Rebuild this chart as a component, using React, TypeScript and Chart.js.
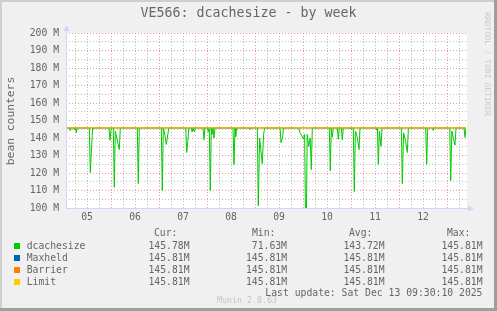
import React, { useEffect, useRef } from "react";
import { Chart, registerables } from "chart.js";

Chart.register(...registerables);

// ---------- data ----------
const chartTitle = "VE566: dcachesize - by week";
const yAxisTitle = "bean counters";
const dayLabels = ["05", "06", "07", "08", "09", "10", "11", "12"]; // labels at noon of each day
const xStartHour = 1.5; // hours since Dec 05 00:00
const xEndHour = 201.5;
const yMin = 100;
const yMax = 200;

// dcachesize samples (hours since Dec 05 00:00, value in M)
const dcacheHours = [
  1.5, 3.15, 3.65, 4.15, 5.4, 5.9, 6.3, 6.65, 7.15,
  13.15, 13.65, 14.8, 15.3, 15.65, 16.15,
  23.0, 23.5, 24.1, 25.15, 25.65, 26.15, 26.9, 28.15, 28.65,
  37.15, 37.65, 38.15,
  49.15, 49.65, 50.15, 50.9, 51.65, 52.4, 52.9,
  61.35, 61.85, 62.4, 62.9,
  64.2, 64.6, 65.0, 65.5, 65.9,
  70.0, 70.5, 71.0,
  72.2, 72.65, 73.15, 73.65, 74.15, 74.5, 75.0, 75.5, 76.0,
  85.0, 85.5, 86.0, 86.35, 86.8,
  93.0, 93.5, 94.0,
  97.15, 97.65, 98.3, 99.65, 100.3, 100.8,
  108.5, 109.0, 109.8, 110.3,
  117.8, 118.5, 119.3, 120.2, 120.8, 121.5, 122.1, 122.85, 123.6, 124.15, 124.65,
  133.15, 133.65, 134.15, 134.65, 135.15,
  137.15, 137.65, 138.15, 139.15, 139.65, 140.15,
  143.6, 144.0, 144.4,
  145.15, 145.65, 146.2, 147.2, 148.0, 148.5,
  156.4, 156.85, 157.2, 157.65, 158.2, 159.0, 159.5,
  169.15, 169.65, 170.3, 171.3, 172.15, 172.7,
  181.35, 181.85, 182.35,
  184.8, 185.15, 185.5,
  193.35, 193.85, 194.4, 196.0, 196.5,
  200.5, 201.0, 201.5,
];
const dcacheValues = [
  145.8, 145.8, 144.2, 145.8, 145.8, 144.6, 145.8, 143.0, 145.8,
  145.8, 120.3, 145.8, 145.8, 145.2, 145.8,
  145.8, 138.7, 145.8, 145.8, 111.8, 144.0, 140.0, 133.4, 145.8,
  145.8, 114.0, 145.8,
  145.8, 109.9, 145.8, 142.0, 136.3, 142.0, 145.8,
  145.8, 131.7, 137.9, 145.8,
  145.8, 143.4, 145.8, 143.8, 145.8,
  145.8, 139.0, 145.8,
  145.8, 143.5, 145.8, 109.9, 145.8, 142.0, 145.8, 140.0, 145.8,
  145.8, 124.8, 145.8, 140.8, 145.8,
  145.8, 144.8, 145.8,
  145.8, 101.3, 140.0, 125.3, 142.0, 145.8,
  145.8, 137.4, 140.5, 145.8,
  145.8, 143.0, 141.5, 139.3, 142.0, 71.63, 142.0, 135.2, 140.0, 122.0, 145.8,
  145.8, 121.3, 145.8, 140.5, 145.8,
  145.8, 139.3, 145.8, 145.8, 138.9, 145.8,
  145.8, 144.9, 145.8,
  145.8, 109.4, 144.0, 140.0, 133.4, 145.8,
  145.8, 144.5, 145.5, 124.9, 144.0, 135.3, 145.8,
  145.8, 114.0, 143.0, 138.0, 131.7, 145.8,
  145.8, 124.9, 145.8,
  145.8, 144.3, 145.8,
  145.8, 115.6, 144.0, 135.9, 145.8,
  145.8, 140.4, 145.78,
];
const flatHours = [1.5, 201.5];
const maxheldValues = [145.81, 145.81];
const barrierValues = [145.81, 145.81];
const limitValues = [145.81, 145.81];

const seriesNames = ["dcachesize", "Maxheld", "Barrier", "Limit"];
const seriesColors = ["#00CC00", "#0066B3", "#FF8000", "#FFCC00"];
const curValues = ["145.78M", "145.81M", "145.81M", "145.81M"];
const minValues = ["71.63M", "145.81M", "145.81M", "145.81M"];
const avgValues = ["143.72M", "145.81M", "145.81M", "145.81M"];
const maxValues = ["145.81M", "145.81M", "145.81M", "145.81M"];
const columnHeaders = ["Cur:", "Min:", "Avg:", "Max:"];
const lastUpdate = "Last update: Sat Dec 13 09:30:10 2025";
const footer = "Munin 2.0.63";
const sideText = "RRDTOOL / TOBI OETIKER";

// ---------- style ----------
const MONO = '"DejaVu Sans Mono", monospace';
const FONT_COLOR = "#666666";
const AXIS_COLOR = "#CFD6F8";
const MAJOR_GRID = "rgba(230,120,120,0.75)";
const MINOR_GRID = "rgba(170,170,170,0.75)";

const toPoints = (xs: number[], ys: number[]) => xs.map((x, i) => ({ x, y: ys[i] }));

const muninPlugin = {
  id: "muninDecor",
  beforeDraw(chart: any) {
    const { ctx, chartArea: a } = chart;
    ctx.save();
    ctx.fillStyle = "#FFFFFF";
    ctx.fillRect(a.left, a.top, a.right - a.left + 1, a.bottom - a.top);
    ctx.restore();
  },
  afterDraw(chart: any) {
    const { ctx, chartArea: a } = chart;
    const l = Math.round(a.left) + 0.5;
    const b = Math.round(a.bottom) + 0.5;
    ctx.save();
    ctx.strokeStyle = AXIS_COLOR;
    ctx.fillStyle = AXIS_COLOR;
    ctx.lineWidth = 1;
    ctx.beginPath();
    ctx.moveTo(l, b);
    ctx.lineTo(l, a.top - 3);
    ctx.moveTo(l - 0.5, b);
    ctx.lineTo(a.right + 4, b);
    ctx.stroke();
    ctx.beginPath();
    ctx.moveTo(l, a.top - 8);
    ctx.lineTo(l - 3, a.top - 2);
    ctx.lineTo(l + 3, a.top - 2);
    ctx.closePath();
    ctx.fill();
    ctx.beginPath();
    ctx.moveTo(a.right + 8, b);
    ctx.lineTo(a.right + 2, b - 3);
    ctx.lineTo(a.right + 2, b + 3);
    ctx.closePath();
    ctx.fill();
    ctx.restore();
  },
};

export default function App() {
  const canvasRef = useRef<HTMLCanvasElement | null>(null);

  useEffect(() => {
    if (!canvasRef.current) return;
    const xTicks: number[] = [];
    for (let h = 6; h < xEndHour; h += 6) if (h > xStartHour) xTicks.push(h);
    const yTicks: number[] = [];
    for (let v = yMin; v <= yMax; v += 5) yTicks.push(v);

    const chart = new Chart(canvasRef.current, {
      type: "line",
      data: {
        datasets: [
          { label: seriesNames[3], data: toPoints(flatHours, limitValues), borderColor: seriesColors[3], order: 1 },
          { label: seriesNames[2], data: toPoints(flatHours, barrierValues), borderColor: seriesColors[2], order: 2 },
          { label: seriesNames[1], data: toPoints(flatHours, maxheldValues), borderColor: seriesColors[1], order: 3 },
          { label: seriesNames[0], data: toPoints(dcacheHours, dcacheValues), borderColor: seriesColors[0], order: 4 },
        ].map((d) => ({
          ...d,
          borderWidth: 1,
          pointRadius: 0,
          tension: 0,
          fill: false,
        })),
      },
      options: {
        animation: false,
        responsive: false,
        events: [],
        layout: { padding: { left: 0, top: 33, right: 31, bottom: 83 } },
        plugins: { legend: { display: false }, tooltip: { enabled: false }, title: { display: false } },
        scales: {
          x: {
            type: "linear",
            min: xStartHour,
            max: xEndHour,
            afterBuildTicks: (scale: any) => {
              scale.ticks = xTicks.map((value) => ({ value }));
            },
            afterFit: (scale: any) => {
              scale.height = 20;
            },
            ticks: {
              autoSkip: false,
              maxRotation: 0,
              padding: 4,
              color: FONT_COLOR,
              font: { family: MONO, size: 9.75 },
              callback: (v: any) => {
                const n = Number(v);
                return n % 24 === 12 ? dayLabels[(n - 12) / 24] : "";
              },
            },
            grid: {
              drawTicks: false,
              color: (c: any) => (c.tick && c.tick.value % 24 === 0 ? MAJOR_GRID : MINOR_GRID),
              lineWidth: 1,
            },
            border: { display: false, dash: [1, 2] },
          },
          y: {
            type: "linear",
            min: yMin,
            max: yMax,
            afterBuildTicks: (scale: any) => {
              scale.ticks = yTicks.map((value) => ({ value }));
            },
            afterFit: (scale: any) => {
              scale.width = 66;
            },
            ticks: {
              autoSkip: false,
              padding: 7,
              color: FONT_COLOR,
              font: { family: MONO, size: 9.75 },
              callback: (v: any) => (Number(v) % 10 === 0 ? `${v} M` : ""),
            },
            grid: {
              drawTicks: false,
              color: (c: any) => (c.tick && c.tick.value % 10 === 0 ? MAJOR_GRID : MINOR_GRID),
              lineWidth: 1,
            },
            border: { display: false, dash: [1, 2] },
          },
        },
      },
      plugins: [muninPlugin],
    } as any);
    return () => chart.destroy();
  }, []);

  const valueCols = [curValues, minValues, avgValues, maxValues];
  const colRight = [189.5, 287, 384.5, 482.5];
  const headerLeft = [154, 252, 349, 447];

  const txt = (extra: React.CSSProperties): React.CSSProperties => ({
    position: "absolute",
    whiteSpace: "pre",
    fontFamily: MONO,
    color: FONT_COLOR,
    fontSize: 9.75,
    lineHeight: "12px",
    ...extra,
  });

  return (
    <div
      style={{
        position: "absolute",
        left: 0,
        top: 0,
        width: 497,
        height: 311,
        background: "#F0F0F0",
        overflow: "hidden",
      }}
    >
      <canvas ref={canvasRef} width={497} height={311} style={{ position: "absolute", left: 0, top: 0 }} />
      <div style={txt({ left: 0, width: 497, top: 4.7, textAlign: "center", fontSize: 13.3, lineHeight: "16px" })}>
        {chartTitle}
      </div>
      <div
        style={txt({
          left: 11 - 60,
          top: 121 - 7,
          width: 120,
          textAlign: "center",
          fontSize: 11.3,
          lineHeight: "14px",
          transform: "rotate(-90deg)",
        })}
      >
        {yAxisTitle}
      </div>
      <div
        style={txt({
          left: 487 - 60,
          top: 63.5 - 5,
          width: 120,
          textAlign: "center",
          fontSize: 7.8,
          lineHeight: "10px",
          color: "#C8C8C8",
          transform: "rotate(90deg)",
        })}
      >
        {sideText}
      </div>
      {columnHeaders.map((h, i) => (
        <div key={h} style={txt({ left: headerLeft[i], top: 227.3 })}>
          {h}
        </div>
      ))}
      {seriesNames.map((name, r) => (
        <React.Fragment key={name}>
          <div
            style={{
              position: "absolute",
              left: 14,
              top: 242.5 + 12 * r,
              width: 6,
              height: 6,
              background: seriesColors[r],
            }}
          />
          <div style={txt({ left: 26.7, top: 239.6 + 12 * r })}>{name}</div>
          {valueCols.map((col, c) => (
            <div key={c} style={txt({ left: colRight[c] - 100, width: 100, textAlign: "right", top: 239.6 + 12 * r })}>
              {col[r]}
            </div>
          ))}
        </React.Fragment>
      ))}
      <div style={txt({ left: 482.5 - 400, width: 400, textAlign: "right", top: 287.3 })}>{lastUpdate}</div>
      <div style={txt({ left: 0, width: 494, textAlign: "center", top: 295.4, fontSize: 8.3, lineHeight: "10px", color: "#C4C4C4" })}>
        {footer}
      </div>
      <div style={{ position: "absolute", left: 0, top: 0, width: 497, height: 2, background: "#CFCFCF" }} />
      <div style={{ position: "absolute", left: 0, top: 0, width: 2, height: 311, background: "#CFCFCF" }} />
      <div style={{ position: "absolute", left: 494, top: 0, width: 3, height: 311, background: "#9E9E9E" }} />
      <div style={{ position: "absolute", left: 0, top: 308, width: 497, height: 3, background: "#9E9E9E" }} />
    </div>
  );
}
